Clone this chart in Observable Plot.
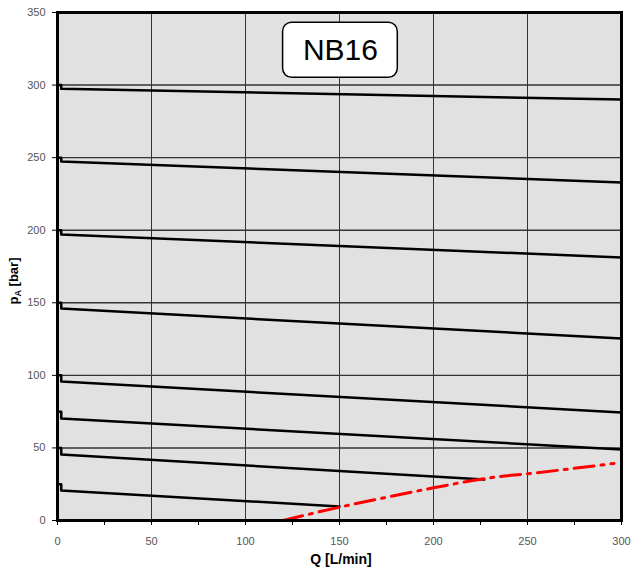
<!DOCTYPE html>
<html>
<head>
<meta charset="utf-8">
<script src="https://cdn.jsdelivr.net/npm/d3@7"></script>
<script src="https://cdn.jsdelivr.net/npm/@observablehq/plot@0.6"></script>
<style>
  html, body { margin: 0; padding: 0; background: #ffffff; }
  #chart { width: 632px; height: 572px; }
</style>
</head>
<body>
<div id="chart"></div>
<script>
// ---- data ----
const levels   = [300, 250, 200, 150, 100, 75, 50, 25];      // set pressure (bar) at Q = 0
const stepQ    = 2;                                          // flow where the small step occurs
const afterP   = [297.5, 247.3, 197, 146, 95.8, 70.3, 45.5, 20.7]; // pressure just after the step
const endQ     = [300, 300, 300, 300, 300, 300, 227, 150];   // last flow of each curve
const endP     = [290, 232.9, 181.2, 125.4, 74.4, 48.9, 28.2, 9.6];

const limitQ   = [120, 150, 172, 200, 231, 250, 296];        // red dash-dot limit curve
const limitP   = [0, 9.2, 15.2, 22.5, 29.6, 32.2, 39.3];

const xTicks   = d3.range(0, 301, 25);
const xLabels  = [0, 50, 100, 150, 200, 250, 300];
const yTicks   = [0, 50, 100, 150, 200, 250, 300, 350];
const gridQ    = [50, 100, 150, 200, 250];
const gridP    = [50, 100, 150, 200, 250, 300];

const boxLabel = [{text: "NB16", q1: 120, q2: 181, p1: 305, p2: 343}];

// ---- build tables ----
const curvePts = levels.flatMap((lv, i) => [
  {level: lv, q: 0, p: lv},
  {level: lv, q: stepQ, p: lv},
  {level: lv, q: stepQ, p: afterP[i]},
  {level: lv, q: endQ[i], p: endP[i]}
]);
const limitPts = limitQ.map((q, i) => ({q, p: limitP[i]}));

const font = "'Liberation Sans', Arial, sans-serif";

const plot = Plot.plot({
  width: 632,
  height: 572,
  marginLeft: 57,
  marginRight: 11,
  marginTop: 12,
  marginBottom: 52,
  style: {fontFamily: font, background: "#ffffff", overflow: "visible"},
  x: {domain: [0, 300]},
  y: {domain: [0, 350]},
  marks: [
    Plot.frame({fill: "#e1e1e1"}),
    Plot.ruleX(gridQ, {x: d => d, stroke: "#333333", strokeWidth: 1}),
    Plot.ruleY(gridP, {y: d => d, stroke: "#333333", strokeWidth: 1.4}),
    Plot.line(curvePts, {x: "q", y: "p", z: "level", stroke: "#000000", strokeWidth: 2.5}),
    Plot.line(limitPts, {x: "q", y: "p", stroke: "#ff0000", strokeWidth: 3,
      strokeDasharray: "20,7,3,7", curve: "monotone-x"}),
    Plot.frame({stroke: "#000000", strokeWidth: 3}),
    Plot.axisX({ticks: xTicks, tickSize: 5, tickPadding: 12, fontSize: 11,
      tickFormat: d => xLabels.includes(d) ? String(d) : "", stroke: "#000000",
      fill: "#555555", label: null}),
    Plot.axisY({ticks: yTicks, tickSize: 5, tickPadding: 7, fontSize: 11,
      stroke: "#000000", fill: "#555555", label: null}),
    Plot.rect(boxLabel, {x1: "q1", x2: "q2", y1: "p1", y2: "p2", fill: "#ffffff",
      stroke: "#000000", strokeWidth: 1.5, rx: 9}),
    Plot.text(boxLabel, {x: d => (d.q1 + d.q2) / 2, y: d => (d.p1 + d.p2) / 2,
      text: "text", fontSize: 30, fill: "#000000"})
  ]
});

document.getElementById("chart").appendChild(plot);

// axis titles (with subscript)
const svg = d3.select(plot);
svg.append("text")
  .attr("x", 341).attr("y", 564)
  .attr("text-anchor", "middle")
  .attr("font-family", font).attr("font-weight", "bold").attr("font-size", 14)
  .attr("fill", "#000000")
  .text("Q [L/min]");

const yl = svg.append("text")
  .attr("transform", "translate(18,281) rotate(-90)")
  .attr("text-anchor", "middle")
  .attr("font-family", font).attr("font-weight", "bold").attr("font-size", 13)
  .attr("fill", "#000000");
yl.append("tspan").text("p");
yl.append("tspan").attr("font-size", 9).attr("dy", 3).text("A");
yl.append("tspan").attr("dy", -3).text(" [bar]");
</script>
</body>
</html>
